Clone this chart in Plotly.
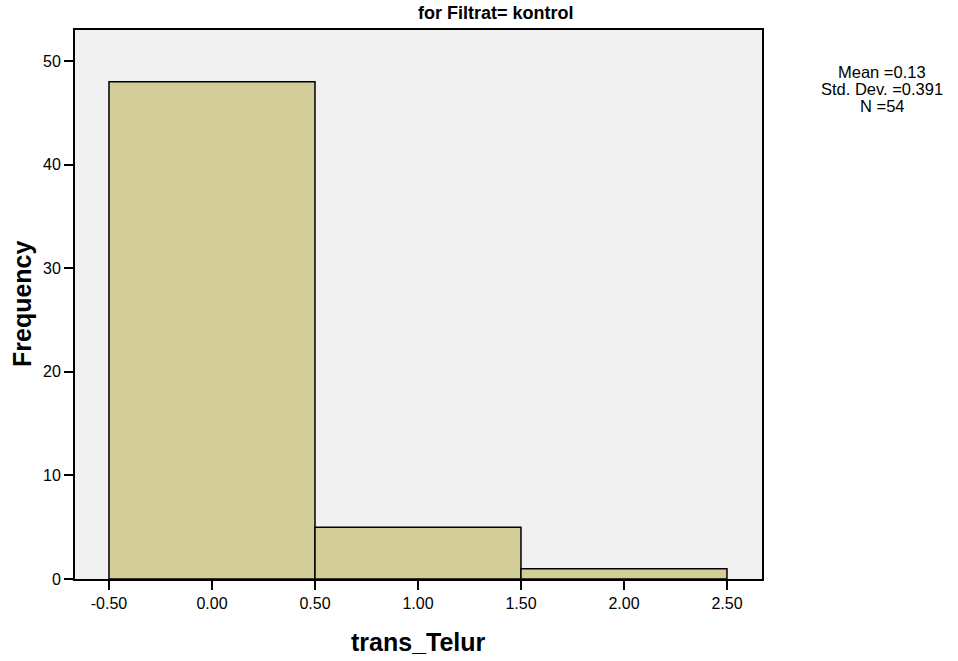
import plotly.graph_objects as go

bin_centers = [0.0, 1.0, 2.0]
frequencies = [48, 5, 1]
x_ticks = [-0.5, 0.0, 0.5, 1.0, 1.5, 2.0, 2.5]
x_tick_labels = ["-0.50", "0.00", "0.50", "1.00", "1.50", "2.00", "2.50"]
y_ticks = [0, 10, 20, 30, 40, 50]
title_text = "for Filtrat= kontrol"
x_title = "trans_Telur"
y_title = "Frequency"
stats_lines = ["Mean =0.13", "Std. Dev. =0.391", "N =54"]

FONT = "Liberation Sans, Arial, sans-serif"
W, H = 958, 661
L, R, T, B = 75, 196, 30, 82
PW, PH = W - L - R, H - T - B


def px(page_x):
    return (page_x - L) / PW


def py(page_y):
    return 1 - (page_y - T) / PH


fig = go.Figure()
fig.add_trace(go.Bar(
    x=bin_centers, y=frequencies, width=1.0,
    marker=dict(color="#D3CE98", line=dict(color="#000000", width=1.5)),
    hoverinfo="x+y"
))

fig.update_layout(
    width=W, height=H,
    margin=dict(l=L, r=R, t=T, b=B),
    paper_bgcolor="white", plot_bgcolor="#F0F0F0",
    showlegend=False,
    font=dict(family=FONT, color="black", size=16),
    xaxis=dict(
        range=[-0.665, 2.67], tickvals=x_ticks, ticktext=x_tick_labels,
        ticks="outside", ticklen=9, tickwidth=2, tickcolor="black",
        showgrid=False, zeroline=False, showline=True, linecolor="black", linewidth=2,
        mirror=True, tickfont=dict(size=16),
    ),
    yaxis=dict(
        range=[0, 53], tickvals=y_ticks,
        ticks="outside", ticklen=9, tickwidth=2, tickcolor="black",
        showgrid=False, zeroline=False, showline=True, linecolor="black", linewidth=2,
        mirror=True, tickfont=dict(size=16),
    ),
)

# chart title
fig.add_annotation(text="<b>" + title_text + "</b>", xref="paper", yref="paper",
                   x=px(496), y=py(13), xanchor="center", yanchor="middle",
                   showarrow=False, font=dict(size=18, family=FONT))
# axis titles
fig.add_annotation(text="<b>" + x_title + "</b>", xref="paper", yref="paper",
                   x=px(418), y=py(642), xanchor="center", yanchor="middle",
                   showarrow=False, font=dict(size=25, family=FONT))
fig.add_annotation(text="<b>" + y_title + "</b>", xref="paper", yref="paper",
                   x=px(22), y=py(304), xanchor="center", yanchor="middle",
                   textangle=-90, showarrow=False, font=dict(size=25, family=FONT))
# stats box
for i, line in enumerate(stats_lines):
    fig.add_annotation(text=line, xref="paper", yref="paper",
                       x=px(882), y=py(72 + 17 * i), xanchor="center", yanchor="middle",
                       showarrow=False, font=dict(size=16.5, family=FONT))

fig.write_html("out.html", config={"displayModeBar": False},
               post_script="document.body.style.margin='0';")
